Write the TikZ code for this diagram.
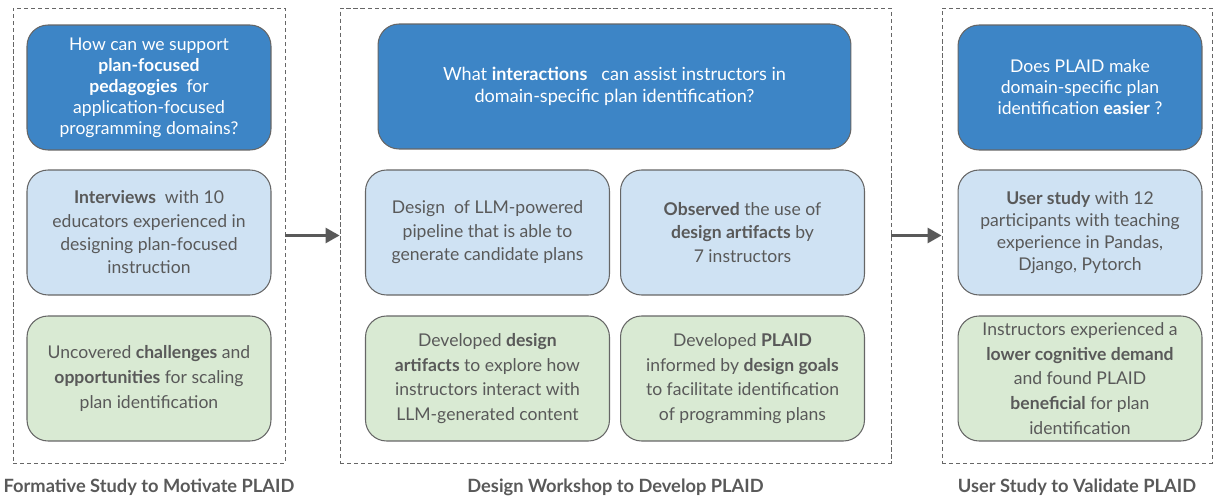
\documentclass[tikz,border=0pt]{standalone}
\usepackage{fontspec}
\setmainfont{Lato}
\usepackage{tikz}
\usetikzlibrary{arrows,arrows.meta}
\definecolor{qblue}{HTML}{3D85C6}
\definecolor{mblue}{HTML}{CFE2F3}
\definecolor{rgreen}{HTML}{D9EAD3}
\definecolor{txtgray}{HTML}{595959}
\definecolor{linegray}{HTML}{666666}
\tikzstyle{box} = [rectangle, rounded corners=0.42cm, draw=linegray, line width=0.6pt, align=center, minimum width=4.88cm, minimum height=2.5cm, inner sep=0pt]
\tikzstyle{question} = [box, fill=qblue, text=white, font=\fontsize{10}{11.9}\selectfont]
\tikzstyle{method} = [box, fill=mblue, text=txtgray, font=\fontsize{10}{13.3}\selectfont]
\tikzstyle{result} = [box, fill=rgreen, text=txtgray, font=\fontsize{10}{14}\selectfont]
\tikzstyle{phase} = [rectangle, draw=linegray, line width=0.5pt, dash pattern=on 2.4pt off 1.6pt, minimum height=9.1cm, inner sep=0pt]
\tikzstyle{caption} = [text=txtgray, font=\fontsize{10.4}{12}\selectfont\bfseries]
\tikzset{edge/.style = {
    draw=txtgray,
    line width=1.7pt,
    -{Triangle[length=8pt,width=8.5pt]},
  }
}

\begin{document}
\begin{tikzpicture}[x=0.02cm, y=-0.02cm]
            \useasboundingbox (0,0) rectangle (1215,500);
            % phases
            \node[phase, minimum width=5.44cm] (f1) at (149, 235.5) {};
            \node[phase, minimum width=11.02cm] (f2) at (615.5, 235.5) {};
            \node[phase, minimum width=5.4cm] (f3) at (1077, 235.5) {};

            % formative study
            \node[question] (l1) at (149, 87.5) {How can we support\\ \textbf{plan-focused}\\ \textbf{pedagogies}\ \ for\\ application-focused\\ programming domains?};
            \node[method] (l2) at (149, 232.5) {\textbf{Interviews}\ \ with 10\\ educators experienced in\\ designing plan-focused\\ instruction};
            \node[result] (l3) at (149, 378.5) {Uncovered \textbf{challenges} and\\ \textbf{opportunities} for scaling\\ plan identification};

            % design workshop
            \node[question, minimum width=9.46cm, font=\fontsize{10.3}{12.2}\selectfont] (m1) at (614.5, 86.5) {What \textbf{interactions}\ \ \ can assist instructors in\\ domain-specific plan identification?};
            \node[method] (m2) at (487.5, 232.5) {Design\ \ of LLM-powered\\ pipeline that is able to\\ generate candidate plans};
            \node[method] (m3) at (742.5, 232.5) {\textbf{Observed} the use of\\ \textbf{design artifacts} by\\ 7 instructors};
            \node[result] (m4) at (487.5, 378.5) {Developed \textbf{design}\\ \textbf{artifacts} to explore how\\ instructors interact with\\ LLM-generated content};
            \node[result] (m5) at (742.5, 378.5) {Developed \textbf{PLAID}\\ informed by \textbf{design goals}\\ to facilitate identification\\ of programming plans};

            % user study
            \node[question] (r1) at (1080, 87.5) {Does PLAID make\\ domain-specific plan\\ identification \textbf{easier} ?};
            \node[method, font=\fontsize{10}{12.5}\selectfont] (r2) at (1080, 232.5) {\textbf{User study} with 12\\ participants with teaching\\ experience in Pandas,\\ Django, Pytorch};
            \node[result] (r3) at (1080, 378.5) {Instructors experienced a\\ \textbf{lower cognitive demand}\\ and found PLAID\\ \textbf{beneficial} for plan\\ identification};

            % captions
            \node[caption] (c1) at (149, 487) {Formative Study to Motivate PLAID};
            \node[caption] (c2) at (615.5, 487) {Design Workshop to Develop PLAID};
            \node[caption] (c3) at (1077, 487) {User Study to Validate PLAID};

            % phase arrows
            \draw[edge] (f1.east) -- (f2.west);
            \draw[edge] (f2.east) -- (f3.west);
\end{tikzpicture}
\end{document}
